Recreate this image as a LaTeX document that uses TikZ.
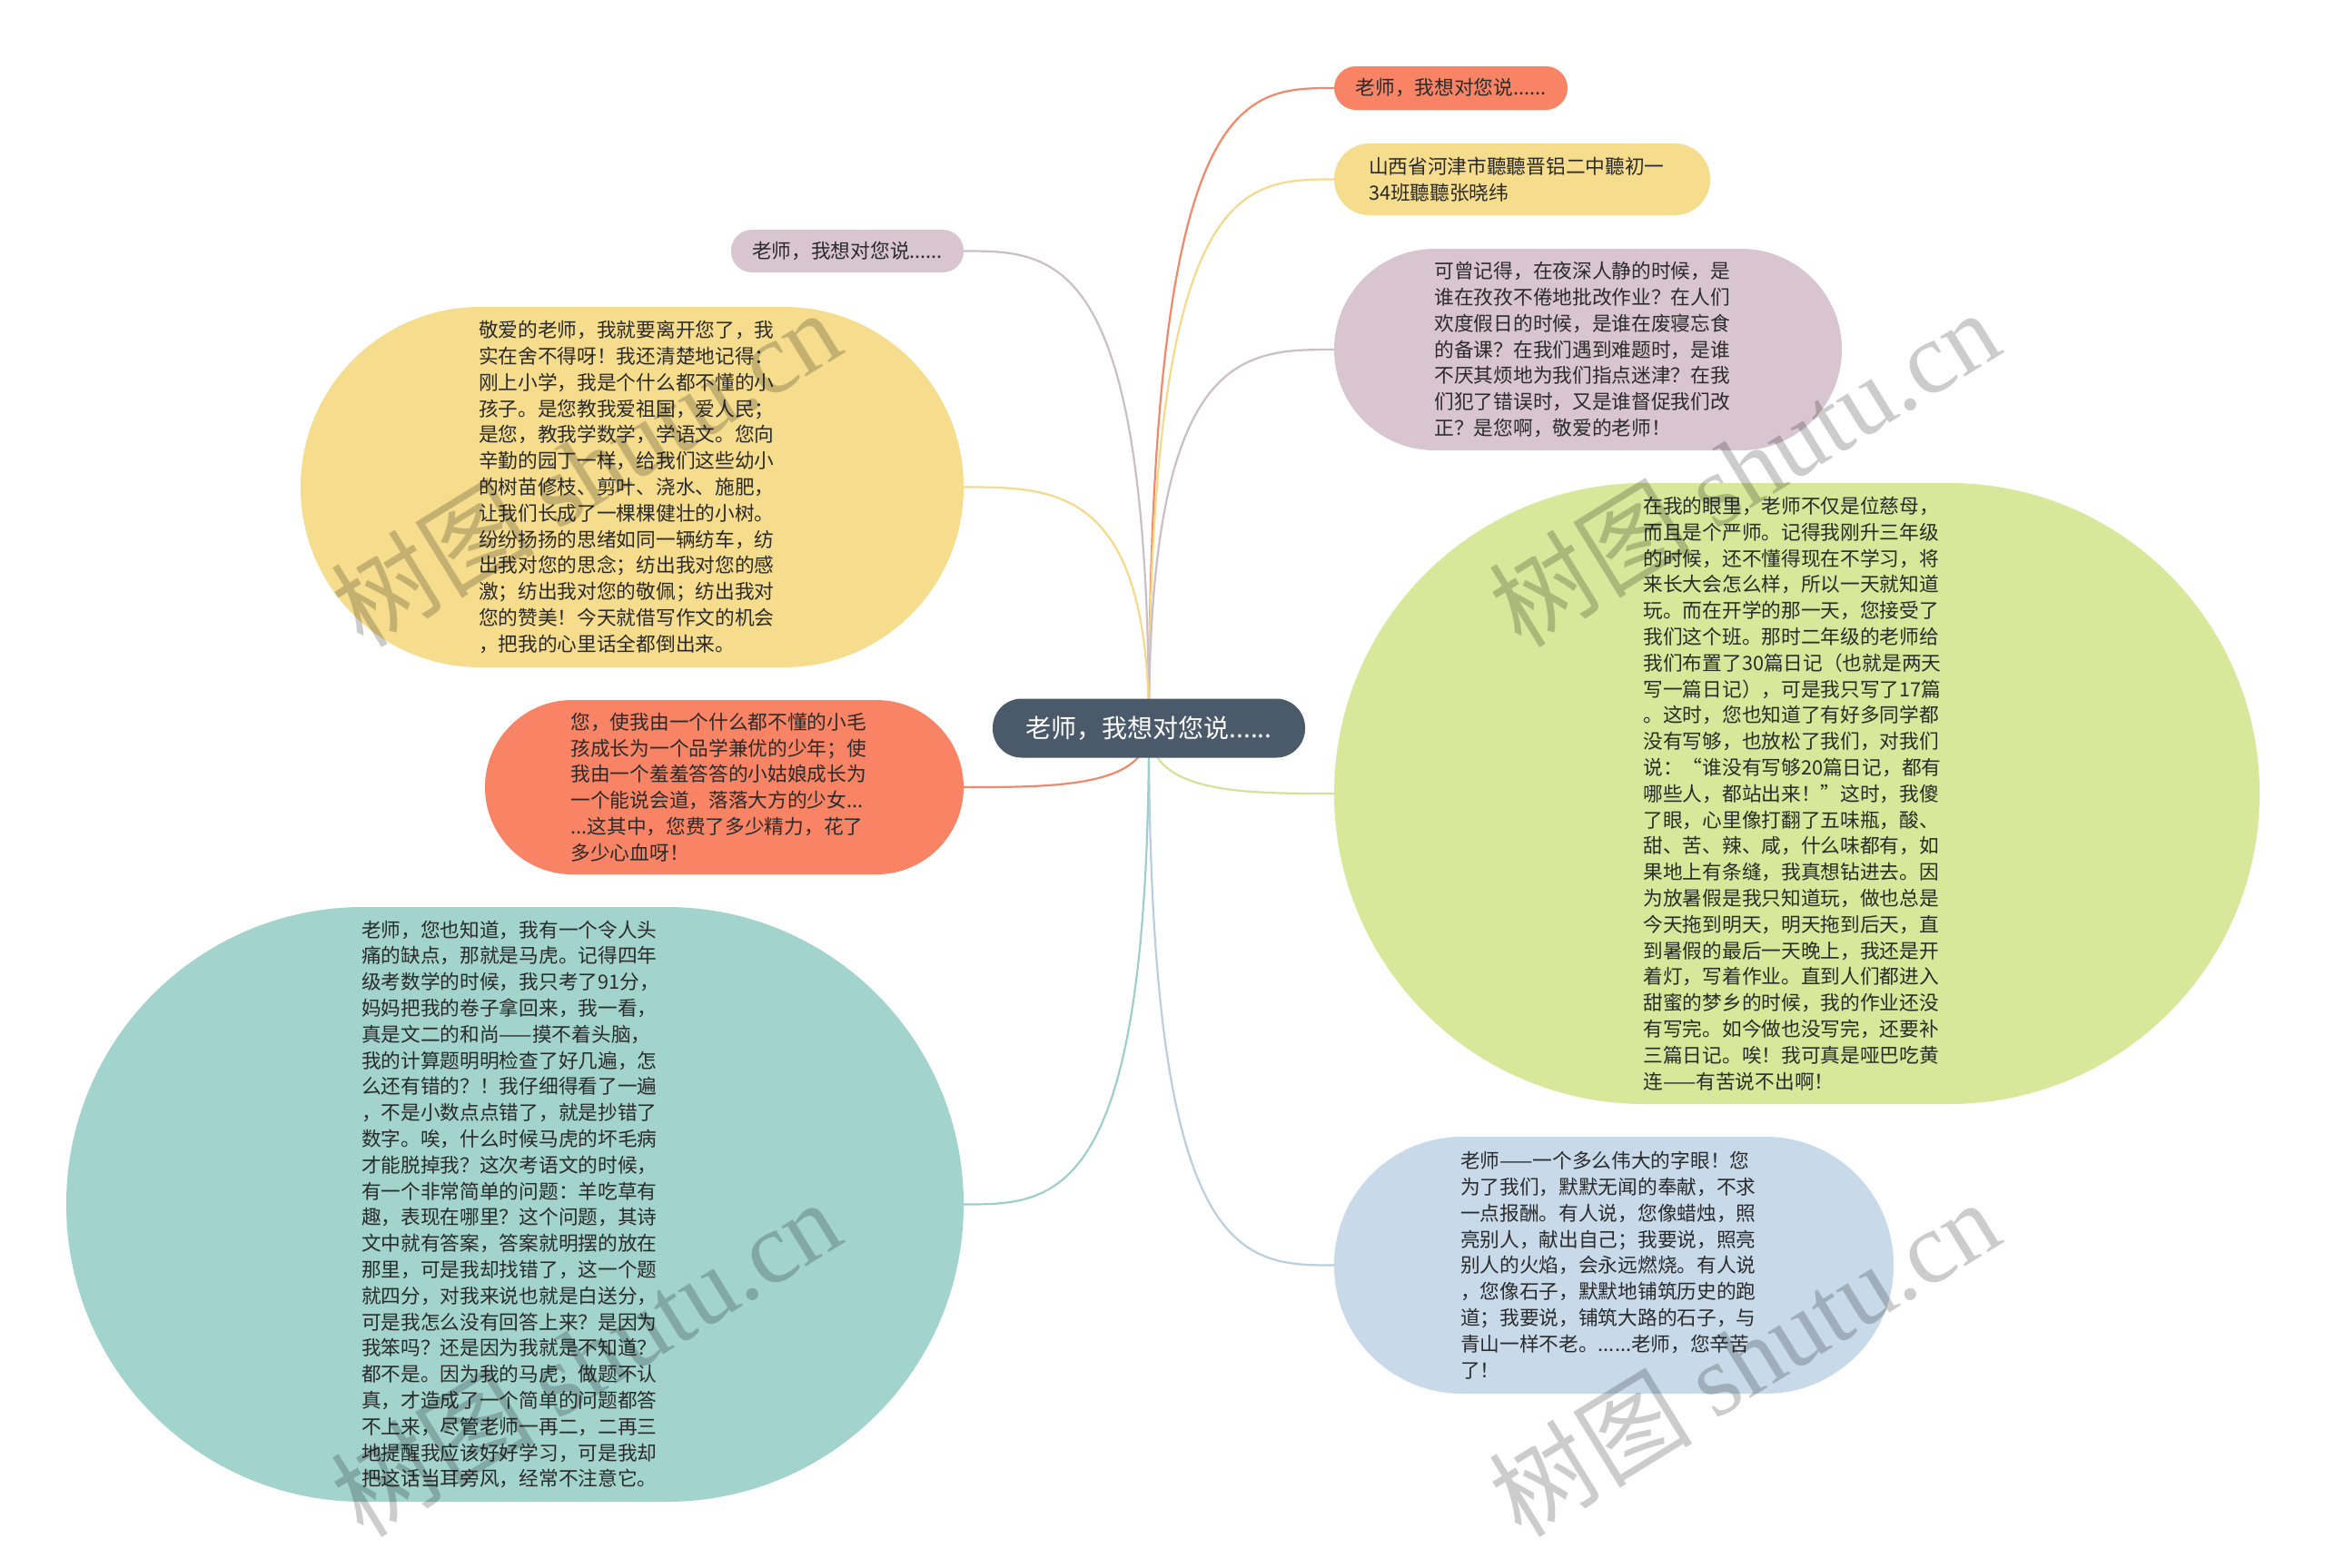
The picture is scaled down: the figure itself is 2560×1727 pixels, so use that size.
\documentclass[tikz,border=0pt]{standalone}
\usepackage{fontspec}
\setmainfont{Noto Sans CJK SC}
\newfontfamily\wmserif{Liberation Serif}
\usetikzlibrary{calc,backgrounds}
\definecolor{txt}{HTML}{2B2B2B}
\definecolor{corange}{HTML}{F88465}
\definecolor{cyellow}{HTML}{F6DD8E}
\definecolor{cpurple}{HTML}{D9C5CF}
\definecolor{cgreen}{HTML}{D8E799}
\definecolor{cteal}{HTML}{A2D3CD}
\definecolor{cblue}{HTML}{C8DAEA}
\definecolor{ccenter}{HTML}{4B5A6A}
\definecolor{lorange}{HTML}{F2876A}
\definecolor{lyellow}{HTML}{F5DA8A}
\definecolor{lpurple}{HTML}{CBBEC5}
\definecolor{lgreen}{HTML}{D3E19A}
\definecolor{lteal}{HTML}{9ECFC9}
\definecolor{lblue}{HTML}{B9CFE0}
\tikzset{
  bubble/.style={inner sep=0pt, text=txt, font=\fontsize{21.7pt}{28.8pt}\selectfont},
  para/.style={text width=338pt, align=left},
  conn/.style={line width=2.2pt},
  wm/.style={text=black, text opacity=0.2, font=\fontsize{112pt}{120pt}\selectfont, inner sep=0pt}
}
\begin{document}
\begin{tikzpicture}[x=1pt,y=-1pt]
\useasboundingbox (0,0) rectangle (2560,1727);

% center
\node[bubble, fill=ccenter, text=white, font=\fontsize{28pt}{34pt}\selectfont,
  minimum width=344pt, minimum height=65pt, rounded corners=32pt] (c) at (1265,802) {老师，我想对您说......};

% right side
\node[bubble, fill=corange, minimum width=257pt, minimum height=48pt, rounded corners=24pt] (n1) at (1597.5,97) {老师，我想对您说......};
\node[bubble, para, fill=cyellow, minimum width=414pt, minimum height=79pt, rounded corners=39pt] (n2) at (1676,197.5) {山西省河津市聽聽晋铝二中聽初一\\34班聽聽张晓纬};
\node[bubble, para, fill=cpurple, minimum width=559pt, minimum height=222pt, rounded corners=111pt] (n3) at (1748.5,385) {可曾记得，在夜深人静的时候，是\\谁在孜孜不倦地批改作业？在人们\\欢度假日的时候，是谁在废寝忘食\\的备课？在我们遇到难题时，是谁\\不厌其烦地为我们指点迷津？在我\\们犯了错误时，又是谁督促我们改\\正？是您啊，敬爱的老师！};
\node[bubble, para, fill=cgreen, minimum width=1019pt, minimum height=684pt, rounded corners=342pt] (n4) at (1978.5,874) {在我的眼里，老师不仅是位慈母，\\而且是个严师。记得我刚升三年级\\的时候，还不懂得现在不学习，将\\来长大会怎么样，所以一天就知道\\玩。而在开学的那一天，您接受了\\我们这个班。那时二年级的老师给\\我们布置了30篇日记（也就是两天\\写一篇日记），可是我只写了17篇\\。这时，您也知道了有好多同学都\\没有写够，也放松了我们，对我们\\说：“谁没有写够20篇日记，都有\\哪些人，都站出来！”这时，我傻\\了眼，心里像打翻了五味瓶，酸、\\甜、苦、辣、咸，什么味都有，如\\果地上有条缝，我真想钻进去。因\\为放暑假是我只知道玩，做也总是\\今天拖到明天，明天拖到后天，直\\到暑假的最后一天晚上，我还是开\\着灯，写着作业。直到人们都进入\\甜蜜的梦乡的时候，我的作业还没\\有写完。如今做也没写完，还要补\\三篇日记。唉！我可真是哑巴吃黄\\连——有苦说不出啊！};
\node[bubble, para, fill=cblue, minimum width=616pt, minimum height=283pt, rounded corners=141pt] (n5) at (1777,1393.5) {老师——一个多么伟大的字眼！您\\为了我们，默默无闻的奉献，不求\\一点报酬。有人说，您像蜡烛，照\\亮别人，献出自己；我要说，照亮\\别人的火焰，会永远燃烧。有人说\\，您像石子，默默地铺筑历史的跑\\道；我要说，铺筑大路的石子，与\\青山一样不老。......老师，您辛苦\\了！};

% left side
\node[bubble, fill=cpurple, minimum width=256pt, minimum height=47pt, rounded corners=23pt] (n6) at (933,276.5) {老师，我想对您说......};
\node[bubble, para, fill=cyellow, minimum width=730pt, minimum height=397pt, rounded corners=198pt] (n7) at (696,536.5) {敬爱的老师，我就要离开您了，我\\实在舍不得呀！我还清楚地记得：\\刚上小学，我是个什么都不懂的小\\孩子。是您教我爱祖国，爱人民；\\是您，教我学数学，学语文。您向\\辛勤的园丁一样，给我们这些幼小\\的树苗修枝、剪叶、浇水、施肥，\\让我们长成了一棵棵健壮的小树。\\纷纷扬扬的思绪如同一辆纺车，纺\\出我对您的思念；纺出我对您的感\\激；纺出我对您的敬佩；纺出我对\\您的赞美！今天就借写作文的机会\\，把我的心里话全都倒出来。};
\node[bubble, para, fill=corange, minimum width=527pt, minimum height=192pt, rounded corners=96pt] (n8) at (797.5,867) {您，使我由一个什么都不懂的小毛\\孩成长为一个品学兼优的少年；使\\我由一个羞羞答答的小姑娘成长为\\一个能说会道，落落大方的少女...\\...这其中，您费了多少精力，花了\\多少心血呀！};
\node[bubble, para, fill=cteal, minimum width=988pt, minimum height=655pt, rounded corners=327pt] (n9) at (567,1326.5) {老师，您也知道，我有一个令人头\\痛的缺点，那就是马虎。记得四年\\级考数学的时候，我只考了91分，\\妈妈把我的卷子拿回来，我一看，\\真是文二的和尚——摸不着头脑，\\我的计算题明明检查了好几遍，怎\\么还有错的？！我仔细得看了一遍\\，不是小数点点错了，就是抄错了\\数字。唉，什么时候马虎的坏毛病\\才能脱掉我？这次考语文的时候，\\有一个非常简单的问题：羊吃草有\\趣，表现在哪里？这个问题，其诗\\文中就有答案，答案就明摆的放在\\那里，可是我却找错了，这一个题\\就四分，对我来说也就是白送分，\\可是我怎么没有回答上来？是因为\\我笨吗？还是因为我就是不知道？\\都不是。因为我的马虎，做题不认\\真，才造成了一个简单的问题都答\\不上来，尽管老师一再二，二再三\\地提醒我应该好好学习，可是我却\\把这话当耳旁风，经常不注意它。};

% background and connectors
\begin{pgfonlayer}{background}
\fill[white] (0,0) rectangle (2560,1727);
\draw[conn, lorange] (c.center) .. controls (c.center |- n1.west) and ($(c.center |- n1.west)!0.5!(n1.west)$) .. (n1.west);
\draw[conn, lyellow] (c.center) .. controls (c.center |- n2.west) and ($(c.center |- n2.west)!0.5!(n2.west)$) .. (n2.west);
\draw[conn, lpurple] (c.center) .. controls (c.center |- n3.west) and ($(c.center |- n3.west)!0.5!(n3.west)$) .. (n3.west);
\draw[conn, lgreen] (c.center) .. controls (c.center |- n4.west) and ($(c.center |- n4.west)!0.5!(n4.west)$) .. (n4.west);
\draw[conn, lblue] (c.center) .. controls (c.center |- n5.west) and ($(c.center |- n5.west)!0.5!(n5.west)$) .. (n5.west);
\draw[conn, lpurple] (c.center) .. controls (c.center |- n6.east) and ($(c.center |- n6.east)!0.5!(n6.east)$) .. (n6.east);
\draw[conn, lyellow] (c.center) .. controls (c.center |- n7.east) and ($(c.center |- n7.east)!0.5!(n7.east)$) .. (n7.east);
\draw[conn, lorange] (c.center) .. controls (c.center |- n8.east) and ($(c.center |- n8.east)!0.5!(n8.east)$) .. (n8.east);
\draw[conn, lteal] (c.center) .. controls (c.center |- n9.east) and ($(c.center |- n9.east)!0.5!(n9.east)$) .. (n9.east);
\end{pgfonlayer}

% watermarks
\node[wm, rotate=31.6] (w1) at (645,515) {树图 {\wmserif shutu.cn}};
\node[wm, rotate=31.6] (w2) at (1920,515) {树图 {\wmserif shutu.cn}};
\node[wm, rotate=31.6] (w3) at (645,1495) {树图 {\wmserif shutu.cn}};
\node[wm, rotate=31.6] (w4) at (1920,1495) {树图 {\wmserif shutu.cn}};
\end{tikzpicture}
\end{document}
